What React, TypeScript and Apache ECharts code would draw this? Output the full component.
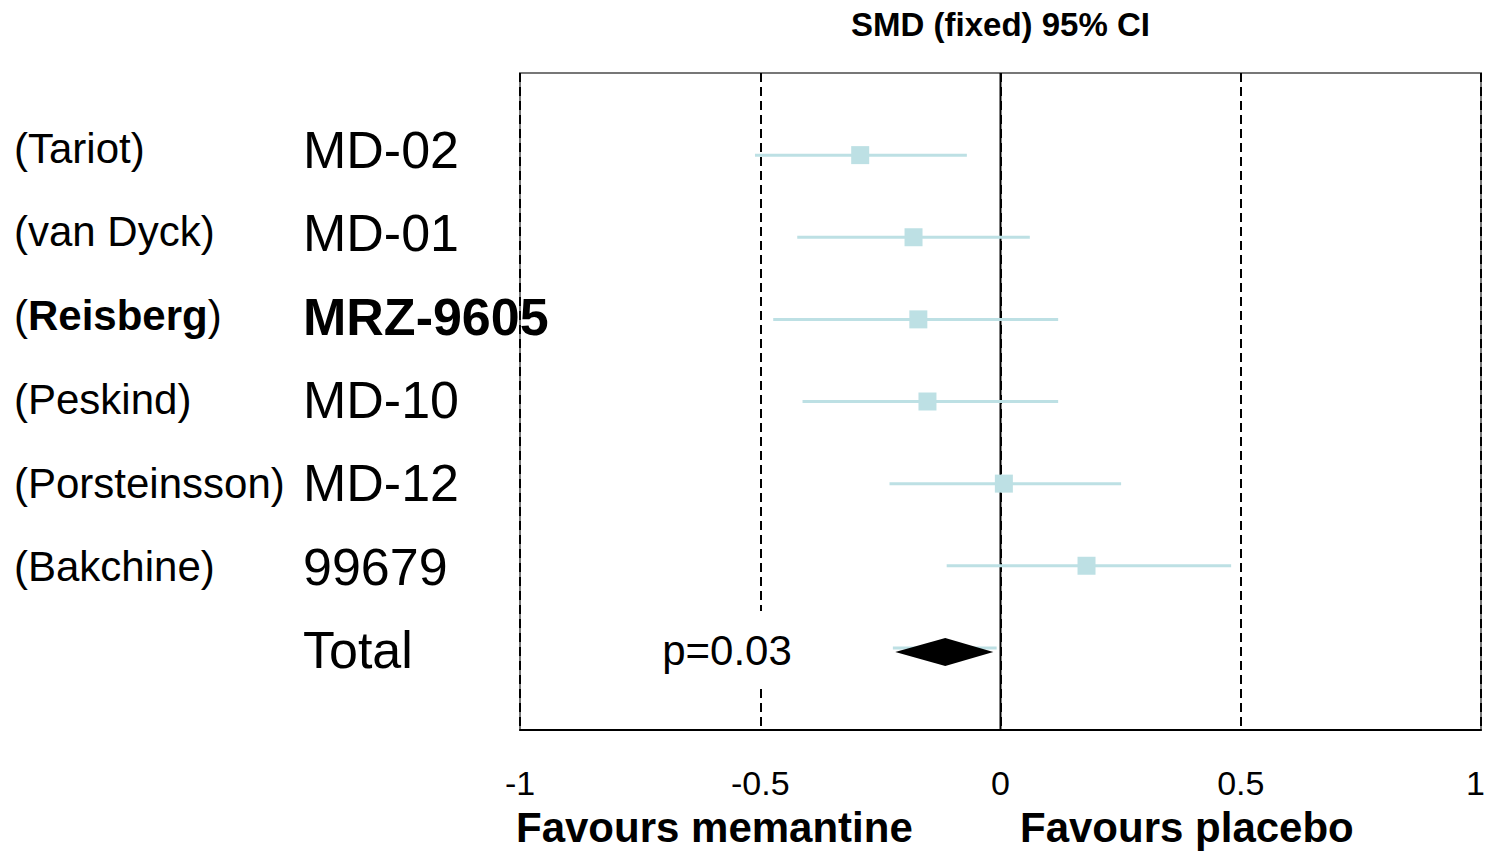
import React, { useEffect, useRef } from "react";
import * as echarts from "echarts";

const authors = ["Tariot", "van Dyck", "Reisberg", "Peskind", "Porsteinsson", "Bakchine"];
const trials = ["MD-02", "MD-01", "MRZ-9605", "MD-10", "MD-12", "99679"];
const smd = [-0.292, -0.181, -0.171, -0.152, 0.007, 0.179];
const ciLower = [-0.511, -0.423, -0.473, -0.412, -0.231, -0.112];
const ciUpper = [-0.07, 0.061, 0.12, 0.12, 0.251, 0.48];
const boldIndex = [2];
const totalLabel = "Total";
const totalSmd = [-0.115];
const totalLower = [-0.219];
const totalUpper = [-0.015];
const totalLineLower = [-0.224];
const totalLineUpper = [-0.008];
const pText = "p=0.03";
const xTicks = [-1, -0.5, 0, 0.5, 1];
const titleText = "SMD (fixed) 95% CI";
const leftFavour = "Favours memantine";
const rightFavour = "Favours placebo";

const FONT = "'Liberation Sans', Arial, Helvetica, sans-serif";
const CI_COLOR = "#bde0e4";

export default function App() {
  const ref = useRef<HTMLDivElement>(null);
  useEffect(() => {
    if (!ref.current) return;
    const chart = echarts.init(ref.current, undefined, { renderer: "svg" });
    const rows = authors.map((a, i) => [smd[i], i + 1, ciLower[i], ciUpper[i]]);
    const totalRow = authors.length + 1;
    const labelRows = authors.map((a, i) => [0, i + 1, i]);
    labelRows.push([0, totalRow, -1]);
    const xMax = xTicks[xTicks.length - 1];

    const option: any = {
      animation: false,
      backgroundColor: "#fff",
      grid: {
        left: 520,
        right: 5,
        top: 73,
        bottom: 122,
        outerBoundsMode: "none",
        containLabel: false,
        show: true,
        borderColor: "#777",
        borderWidth: 2,
        backgroundColor: "transparent",
      },
      xAxis: {
        type: "value",
        min: xTicks[0],
        max: xMax,
        interval: 0.5,
        axisLine: { show: true, onZero: false, lineStyle: { color: "#000", width: 2 } },
        axisTick: { show: false },
        axisLabel: {
          show: true,
          color: "#000",
          fontSize: 34,
          fontFamily: FONT,
          margin: 36,
          showMinLabel: true,
          showMaxLabel: true,
          hideOverlap: false,
          formatter: (v: number) => (v === xMax ? "{e|" + String(v) + "}" : String(v)),
          rich: {
            e: { fontSize: 34, fontFamily: FONT, color: "#000", padding: [0, 11, 0, 0] },
          },
        },
        splitLine: { show: true, lineStyle: { color: "#000", width: 2, type: [9, 5] } },
      },
      yAxis: {
        type: "value",
        min: 0,
        max: 8,
        inverse: true,
        show: false,
      },
      graphic: [
        {
          type: "text",
          z: 100,
          x: 1000.5,
          y: 24,
          style: {
            text: titleText,
            fontSize: 33,
            fontWeight: "bold",
            fontFamily: FONT,
            fill: "#000",
            align: "center",
            verticalAlign: "middle",
          },
        },
        {
          type: "text",
          z: 100,
          x: 516,
          y: 827,
          style: {
            text: leftFavour,
            fontSize: 42,
            fontWeight: "bold",
            fontFamily: FONT,
            fill: "#000",
            align: "left",
            verticalAlign: "middle",
          },
        },
        {
          type: "text",
          z: 100,
          x: 1020,
          y: 827,
          style: {
            text: rightFavour,
            fontSize: 42,
            fontWeight: "bold",
            fontFamily: FONT,
            fill: "#000",
            align: "left",
            verticalAlign: "middle",
          },
        },
        {
          type: "text",
          z: 100,
          x: 727,
          y: 650,
          style: {
            text: pText,
            fontSize: 42,
            fontFamily: FONT,
            fill: "#000",
            align: "center",
            verticalAlign: "middle",
            backgroundColor: "#fff",
            padding: [18, 4],
          },
        },
      ],
      series: [
        {
          type: "custom",
          name: "zero",
          data: [[0, 0]],
          silent: true,
          z: 3,
          renderItem: (params: any, api: any) => {
            const a = api.coord([0, 0]);
            const b = api.coord([0, 8]);
            return {
              type: "line",
              shape: { x1: a[0], y1: a[1], x2: b[0], y2: b[1] },
              style: { stroke: "#000", lineWidth: 2 },
            };
          },
        },
        {
          type: "custom",
          name: "studies",
          data: rows,
          encode: { x: [0, 2, 3], y: 1 },
          silent: true,
          z: 4,
          renderItem: (params: any, api: any) => {
            const y = api.value(1);
            const lo = api.coord([api.value(2), y]);
            const hi = api.coord([api.value(3), y]);
            const c = api.coord([api.value(0), y]);
            return {
              type: "group",
              children: [
                {
                  type: "line",
                  shape: { x1: lo[0], y1: lo[1], x2: hi[0], y2: hi[1] },
                  style: { stroke: CI_COLOR, lineWidth: 3 },
                },
                {
                  type: "rect",
                  shape: { x: c[0] - 9, y: c[1] - 9, width: 18, height: 18 },
                  style: { fill: CI_COLOR },
                },
              ],
            };
          },
        },
        {
          type: "custom",
          name: "total",
          data: [[totalSmd[0], totalRow, totalLower[0], totalUpper[0], totalLineLower[0], totalLineUpper[0]]],
          encode: { x: [0, 2, 3], y: 1 },
          silent: true,
          z: 4,
          renderItem: (params: any, api: any) => {
            const y = api.value(1);
            const llo = api.coord([api.value(4), y]);
            const lhi = api.coord([api.value(5), y]);
            const lo = api.coord([api.value(2), y]);
            const hi = api.coord([api.value(3), y]);
            const c = api.coord([api.value(0), y]);
            const cy = c[1] + 4;
            return {
              type: "group",
              children: [
                {
                  type: "line",
                  shape: { x1: llo[0], y1: llo[1], x2: lhi[0], y2: lhi[1] },
                  style: { stroke: CI_COLOR, lineWidth: 3 },
                },
                {
                  type: "polygon",
                  shape: {
                    points: [
                      [lo[0], cy],
                      [c[0], cy - 14],
                      [hi[0], cy],
                      [c[0], cy + 14],
                    ],
                  },
                  style: { fill: "#000" },
                },
              ],
            };
          },
        },
        {
          type: "custom",
          name: "labels",
          data: labelRows,
          encode: { y: 1 },
          silent: true,
          clip: false,
          z: 5,
          renderItem: (params: any, api: any) => {
            const row = api.value(1);
            const idx = api.value(2);
            const base = api.coord([0, row])[1];
            const yCode = base - 5 + (row - 1) * 1.2;
            const yName = base - 7 + (row - 1) * 1.6;
            const children: any[] = [];
            if (idx >= 0) {
              const bold = boldIndex.indexOf(idx) >= 0;
              children.push({
                type: "text",
                x: 14,
                y: yName,
                style: {
                  text: bold ? "(" + "{b|" + authors[idx] + "})" : "(" + authors[idx] + ")",
                  fontSize: 42,
                  fontFamily: FONT,
                  fill: "#000",
                  align: "left",
                  verticalAlign: "middle",
                  rich: {
                    b: { fontSize: 42, fontFamily: FONT, fontWeight: "bold", fill: "#000", color: "#000" },
                  },
                },
              });
              children.push({
                type: "text",
                x: 303,
                y: yCode,
                style: {
                  text: trials[idx],
                  fontSize: 52,
                  fontFamily: FONT,
                  fontWeight: bold ? "bold" : "normal",
                  fill: "#000",
                  align: "left",
                  verticalAlign: "middle",
                },
              });
            } else {
              children.push({
                type: "text",
                x: 303,
                y: yCode,
                style: {
                  text: totalLabel,
                  fontSize: 52,
                  fontFamily: FONT,
                  fill: "#000",
                  align: "left",
                  verticalAlign: "middle",
                },
              });
            }
            return { type: "group", children };
          },
        },
      ],
    };
    chart.setOption(option);
    return () => chart.dispose();
  }, []);
  return (
    <div
      ref={ref}
      style={{ position: "fixed", left: 0, top: 0, width: 1486, height: 852, background: "#fff" }}
    />
  );
}
